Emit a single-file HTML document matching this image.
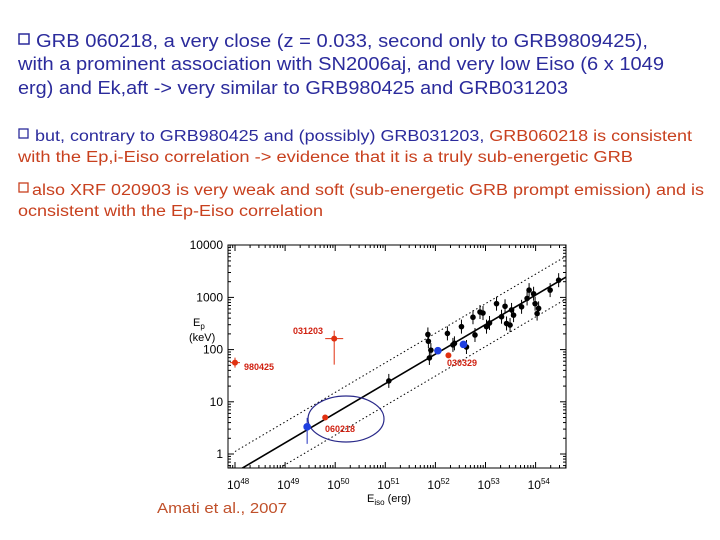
<!DOCTYPE html>
<html><head><meta charset="utf-8"><style>
html,body{margin:0;padding:0;background:#fff;}
svg{display:block;font-family:"Liberation Sans",sans-serif;}
</style></head><body>
<svg id="s" width="720" height="540" viewBox="0 0 720 540">
<g fill="#2b2b9c" font-size="18">
<rect x="19" y="34" width="10" height="10" fill="none" stroke="#2b2b9c" stroke-width="1.5"/>
<text x="36" y="47" textLength="612" lengthAdjust="spacingAndGlyphs">GRB 060218, a very close (z = 0.033, second only to GRB9809425),</text>
<text x="18" y="70" textLength="646" lengthAdjust="spacingAndGlyphs">with a prominent association with SN2006aj, and very low Eiso (6 x 1049</text>
<text x="18" y="94" textLength="550" lengthAdjust="spacingAndGlyphs">erg) and Ek,aft -&gt; very similar to GRB980425 and GRB031203</text>
</g>
<g font-size="15.5">
<rect x="19" y="129" width="9" height="9" fill="none" stroke="#2b2b9c" stroke-width="1.3"/>
<text x="35" y="141" textLength="657" lengthAdjust="spacingAndGlyphs" fill="#2b2b9c">but, contrary to GRB980425 and (possibly) GRB031203, <tspan fill="#c8401e">GRB060218 is consistent</tspan></text>
<text x="18" y="162" textLength="615" lengthAdjust="spacingAndGlyphs" fill="#c8401e">with the Ep,i-Eiso correlation  -&gt; evidence that it is a truly sub-energetic GRB</text>
</g>
<g font-size="15.5" fill="#c8401e">
<rect x="19" y="183" width="9" height="9" fill="none" stroke="#c8401e" stroke-width="1.3"/>
<text x="32" y="195" textLength="672" lengthAdjust="spacingAndGlyphs">also XRF 020903 is very weak and soft (sub-energetic GRB prompt emission) and is</text>
<text x="18" y="216" textLength="305" lengthAdjust="spacingAndGlyphs">ocnsistent with the Ep-Eiso correlation</text>
</g>
<g id="chart"></g>
<text x="157" y="513" font-size="14.5" fill="#c0502a" textLength="130" lengthAdjust="spacingAndGlyphs">Amati et al., 2007</text>
</svg>
<script>
// data in log10 units
const blackLogE  = [51.07,51.88,51.85,51.86,51.91,52.24,52.35,52.38,52.52,52.62,52.75,52.79,52.89,52.95,53.02,53.08,53.22,53.32,53.39,53.42,53.49,53.52,53.56,53.72,53.83,53.87,53.96,53.99,54.03,54.06,54.29,54.46];
const blackLogEp = [1.40,1.84,2.29,2.16,1.99,2.31,2.09,2.12,2.44,2.05,2.62,2.28,2.72,2.7,2.44,2.51,2.88,2.63,2.83,2.5,2.47,2.76,2.66,2.82,2.98,3.14,3.07,2.88,2.69,2.79,3.14,3.33];
const blueLogE  = [49.44,52.05,52.56];
const blueLogEp = [0.52,1.98,2.1];
const redNames  = ["980425","031203","060218","030329"];
const redLogE   = [48.0,49.98,49.8,52.26];
const redLogEp  = [1.75,2.21,0.70,1.89];
const fitLogE   = [48.11,54.59];
const fitLogEp  = [-0.29,3.38];
const bandOffset = [0.4,-0.42];
const yTicks = [0,1,2,3,4];
const yTickLabels = ["1","10","100","1000","10000"];
const xTicks = [48,49,50,51,52,53,54];

const NS="http://www.w3.org/2000/svg";
const g=document.getElementById('chart');
const L=228,R=566,T=245,B=468;
const xs=v=>235+(v-48)*50.1;
const ys=v=>454-v*52.2;
function mk(t,a,p){const e=document.createElementNS(NS,t);for(const k in a)e.setAttribute(k,a[k]);(p||g).appendChild(e);return e;}

let frame=mk('rect',{x:L,y:T,width:R-L,height:B-T,fill:'none',stroke:'#000','stroke-width':1});


for(let d=-1;d<=3;d++)for(let m=1;m<10;m++){const v=d+Math.log10(m);const y=ys(v);if(y<T||y>B)continue;const len=m===1?6:3;
 mk('line',{x1:L,x2:L+len,y1:y,y2:y,stroke:'#000'});mk('line',{x1:R,x2:R-len,y1:y,y2:y,stroke:'#000'});}
yTicks.forEach((v,i)=>{const t=mk('text',{x:L-5,y:ys(v)+4,'text-anchor':'end','font-size':12});t.textContent=yTickLabels[i];
 
 });
for(let d=47;d<=54;d++)for(let m=1;m<10;m++){const v=d+Math.log10(m);const x=xs(v);if(x<L||x>R)continue;const len=m===1?6:3;
 mk('line',{x1:x,x2:x,y1:B,y2:B-len,stroke:'#000'});mk('line',{x1:x,x2:x,y1:T,y2:T+len,stroke:'#000'});}
xTicks.forEach(v=>{const t=mk('text',{x:xs(v)-8,y:489,'font-size':12});t.textContent='10';
 const s=mk('tspan',{dy:-5,'font-size':8},t);s.textContent=String(v);
 
 });
let yt=mk('text',{x:193,y:326,'font-size':11});yt.textContent='E';const sub=mk('tspan',{dy:3,'font-size':8},yt);sub.textContent='p';


let yt2=mk('text',{x:189,y:341,'font-size':11});yt2.textContent='(keV)';


let xt=mk('text',{x:367,y:502,'font-size':11});xt.textContent='E';const xs2=mk('tspan',{dy:3,'font-size':8},xt);xs2.textContent='iso';
const xs3=mk('tspan',{dy:-3},xt);xs3.textContent=' (erg)';



const cp=mk('clipPath',{id:'cp'});mk('rect',{x:L,y:T,width:R-L,height:B-T},cp);
const slope=(fitLogEp[1]-fitLogEp[0])/(fitLogE[1]-fitLogE[0]);
const fy=v=>fitLogEp[0]+slope*(v-fitLogE[0]);
let fit=mk('line',{x1:xs(48),y1:ys(fy(48)),x2:xs(54.8),y2:ys(fy(54.8)),stroke:'#000','stroke-width':1.6,'clip-path':'url(#cp)'});


bandOffset.forEach(o=>{const l=mk('line',{x1:xs(48),y1:ys(fy(48)+o),x2:xs(54.8),y2:ys(fy(54.8)+o),stroke:'#000','stroke-dasharray':'1.5 2.5','clip-path':'url(#cp)'});
 
 });
let ell=mk('ellipse',{cx:346,cy:419,rx:38,ry:23,fill:'none',stroke:'#2a2a8a','stroke-width':1.2});



blackLogE.forEach((v,i)=>{const x=xs(v),y=ys(blackLogEp[i]);
 mk('line',{x1:x,x2:x,y1:y-7,y2:y+7,stroke:'#000'});
 const c=mk('circle',{cx:x,cy:y,r:2.8,fill:'#000'});
 
 });
blueLogE.forEach((v,i)=>{const x=xs(v),y=ys(blueLogEp[i]);
 if(i===0)mk('line',{x1:x,x2:x,y1:y-9,y2:y+17,stroke:'#2030c0'});
 const c=mk('circle',{cx:x,cy:y,r:3.8,fill:'#1f3fe0'});
 
 });
const labPos=[[244,370],[293,334],[325,432],[447,366]];
redLogE.forEach((v,i)=>{const x=xs(v),y=ys(redLogEp[i]);
 if(i===0){mk('line',{x1:x-5,x2:x+5,y1:y,y2:y,stroke:'#e03010'});mk('line',{x1:x,x2:x,y1:y-5,y2:y+5,stroke:'#e03010'});}
 if(i===1){mk('line',{x1:x-9,x2:x+9,y1:y,y2:y,stroke:'#e03010'});mk('line',{x1:x,x2:x,y1:y-8,y2:y+26,stroke:'#e03010'});}
 const c=mk('circle',{cx:x,cy:y,r:3,fill:'#e03010'});
 
 
 const t=mk('text',{x:labPos[i][0],y:labPos[i][1],'font-size':9,fill:'#d02010','font-weight':'bold'});t.textContent=redNames[i];
 
 });
</script>
</body></html>
